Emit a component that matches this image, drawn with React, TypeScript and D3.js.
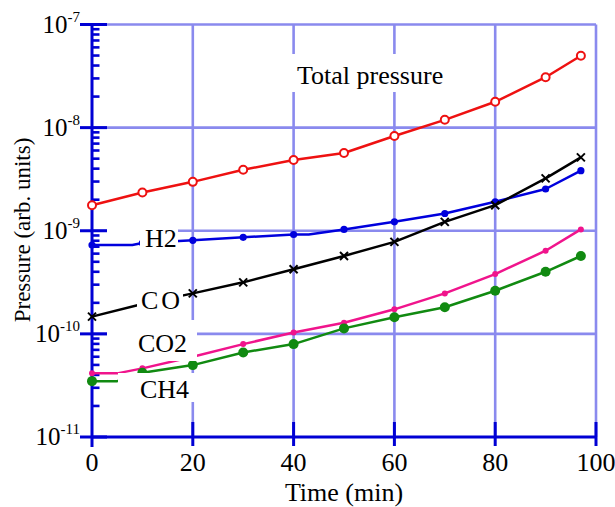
import React from "react";
import * as d3 from "d3";

// ---------- data ----------
const totalTime = [0, 10, 20, 30, 40, 50, 60, 70, 80, 90, 97];
const totalValues = [1.77e-9, 2.35e-9, 2.98e-9, 3.9e-9, 4.85e-9, 5.67e-9, 8.3e-9, 1.19e-8, 1.78e-8, 3.08e-8, 4.98e-8];

const h2Time = [0, 8, 10, 20, 30, 40, 43, 50, 60, 70, 80, 90, 97];
const h2Values = [7.26e-10, 7.26e-10, 7.6e-10, 8.07e-10, 8.63e-10, 9.2e-10, 9.2e-10, 1.03e-9, 1.22e-9, 1.47e-9, 1.91e-9, 2.54e-9, 3.82e-9];

const coTime = [0, 10, 20, 30, 40, 50, 60, 70, 80, 90, 97];
const coValues = [1.47e-10, 1.95e-10, 2.47e-10, 3.16e-10, 4.23e-10, 5.7e-10, 7.8e-10, 1.22e-9, 1.77e-9, 3.22e-9, 5.15e-9];

const co2Time = [0, 5, 10, 20, 30, 40, 50, 60, 70, 80, 90, 97];
const co2Values = [4.14e-11, 4.14e-11, 4.63e-11, 6.0e-11, 7.96e-11, 1.03e-10, 1.28e-10, 1.73e-10, 2.47e-10, 3.8e-10, 6.4e-10, 1.03e-9];

const ch4Time = [0, 5, 10, 20, 30, 40, 50, 60, 70, 80, 90, 97];
const ch4Values = [3.48e-11, 3.48e-11, 4.2e-11, 4.98e-11, 6.6e-11, 7.96e-11, 1.13e-10, 1.45e-10, 1.81e-10, 2.62e-10, 4.0e-10, 5.69e-10];

const xTicks = [0, 20, 40, 60, 80, 100];
const yDecades = [-11, -10, -9, -8, -7];

const xTitle = "Time (min)";
const yTitle = "Pressure (arb. units)";

// ---------- layout ----------
const W = 615;
const H = 507;
const FONT = "'Liberation Serif', 'Times New Roman', serif";
const AXIS = "#0000d4";
const GRID = "#8a8aee";

const x = d3.scaleLinear().domain([0, 100]).range([92, 596]);
const y = d3.scaleLog().domain([1e-11, 1e-7]).range([437, 24.5]);

type Series = {
  name: string;
  t: number[];
  v: number[];
  color: string;
  marker: "open" | "dot" | "cross" | "small" | "big";
};

const series: Series[] = [
  { name: "Total pressure", t: totalTime, v: totalValues, color: "#ee1111", marker: "open" },
  { name: "H2", t: h2Time, v: h2Values, color: "#0000dd", marker: "dot" },
  { name: "CO", t: coTime, v: coValues, color: "#000000", marker: "cross" },
  { name: "CO2", t: co2Time, v: co2Values, color: "#f0148c", marker: "small" },
  { name: "CH4", t: ch4Time, v: ch4Values, color: "#118a11", marker: "big" },
];

type Label = { text: string; x: number; y: number; boxes: number[][]; ls?: number };
const labels: Label[] = [
  { text: "Total pressure", x: 297, y: 84, boxes: [[290, 54, 452, 92]] },
  { text: "H2", x: 145, y: 247, boxes: [[107, 222, 178, 240], [140, 222, 178, 252]] },
  { text: "CO", x: 141, y: 309, boxes: [[137, 287, 183, 316]], ls: 3 },
  { text: "CO2", x: 138, y: 352, boxes: [[107, 320, 197, 361]] },
  { text: "CH4", x: 140, y: 398, boxes: [[118, 373, 195, 402]] },
];

function Marker({ kind, cx, cy, color }: { kind: Series["marker"]; cx: number; cy: number; color: string }) {
  switch (kind) {
    case "open":
      return <circle cx={cx} cy={cy} r={4} fill="white" stroke={color} strokeWidth={2} />;
    case "dot":
      return <circle cx={cx} cy={cy} r={3.6} fill={color} />;
    case "cross":
      return (
        <g stroke={color} strokeWidth={2}>
          <line x1={cx - 4} y1={cy - 4} x2={cx + 4} y2={cy + 4} />
          <line x1={cx - 4} y1={cy + 4} x2={cx + 4} y2={cy - 4} />
        </g>
      );
    case "small":
      return <circle cx={cx} cy={cy} r={3} fill={color} />;
    case "big":
      return <circle cx={cx} cy={cy} r={5} fill={color} />;
  }
}

export default function App() {
  const line = d3
    .line<[number, number]>()
    .x((d) => x(d[0]))
    .y((d) => y(d[1]));

  const [x0, x1] = x.range();
  const [yb, yt] = y.range();

  const minorTicks: number[] = [];
  for (let e = -11; e < -7; e++) {
    for (let m = 2; m <= 9; m++) minorTicks.push(m * Math.pow(10, e));
  }

  return (
    <svg
      width={W}
      height={H}
      style={{ position: "absolute", left: 0, top: 0, background: "white" }}
      fontFamily={FONT}
    >
      <rect x={0} y={0} width={W} height={H} fill="white" />
      {/* grid */}
      <g stroke={GRID} strokeWidth={2.6}>
        {xTicks.filter((t) => t > 0).map((t) => (
          <line key={"gx" + t} x1={x(t)} x2={x(t)} y1={yt} y2={yb} />
        ))}
        {yDecades.filter((e) => e > -11).map((e) => (
          <line key={"gy" + e} x1={x0} x2={x1} y1={y(Math.pow(10, e))} y2={y(Math.pow(10, e))} />
        ))}
      </g>
      {/* axes */}
      <g stroke={AXIS} strokeWidth={3}>
        <line x1={x0} x2={x0} y1={yt - 1} y2={yb + 10} />
        <line x1={x0} x2={x1 + 1} y1={yb} y2={yb} />
        {xTicks.filter((t) => t > 0).map((t) => (
          <line key={"tx" + t} x1={x(t)} x2={x(t)} y1={yb - 15} y2={yb + 9} />
        ))}
        {yDecades.map((e) => (
          <line key={"ty" + e} x1={x0 - 12} x2={x0 + 15} y1={y(Math.pow(10, e))} y2={y(Math.pow(10, e))} />
        ))}
        {minorTicks.map((v, i) => (
          <line key={"mt" + i} x1={x0} x2={x0 + 7.5} y1={y(v)} y2={y(v)} strokeWidth={2.6} />
        ))}
      </g>
      {/* tick labels */}
      <g fontSize={26} fill="black" textAnchor="middle">
        {xTicks.map((t) => (
          <text key={"lx" + t} x={x(t)} y={471}>
            {t}
          </text>
        ))}
      </g>
      <g fill="black" textAnchor="end">
        {yDecades.map((e) => (
          <text key={"ly" + e} x={80} y={y(Math.pow(10, e)) + 8}>
            <tspan fontSize={25}>10</tspan>
            <tspan fontSize={15} dy={-11}>
              {"-" + Math.abs(e)}
            </tspan>
          </text>
        ))}
      </g>
      {/* series */}
      {series.map((s) => {
        const pts = s.t.map((t, i) => [t, s.v[i]] as [number, number]);
        return (
          <g key={s.name}>
            <path d={line(pts) || ""} fill="none" stroke={s.color} strokeWidth={2.5} strokeLinejoin="round" />
            {pts
              .filter((p, i) => p[0] % 10 === 0 || i === pts.length - 1)
              .map((p, i) => (
                <Marker key={i} kind={s.marker} cx={x(p[0])} cy={y(p[1])} color={s.color} />
              ))}
          </g>
        );
      })}
      {/* labels */}
      {labels.map((l) => (
        <g key={l.text}>
          {l.boxes.map((b, i) => (
            <rect key={i} x={b[0]} y={b[1]} width={b[2] - b[0]} height={b[3] - b[1]} fill="white" />
          ))}
          <text x={l.x} y={l.y} fontSize={26} fill="black" letterSpacing={l.ls || 0}>
            {l.text}
          </text>
        </g>
      ))}
      {/* titles */}
      <text x={(x0 + x1) / 2} y={501} fontSize={26} textAnchor="middle" fill="black">
        {xTitle}
      </text>
      <text
        transform={`translate(29.5, 230) rotate(-90)`}
        fontSize={23}
        textAnchor="middle"
        fill="black"
      >
        {yTitle}
      </text>
    </svg>
  );
}
